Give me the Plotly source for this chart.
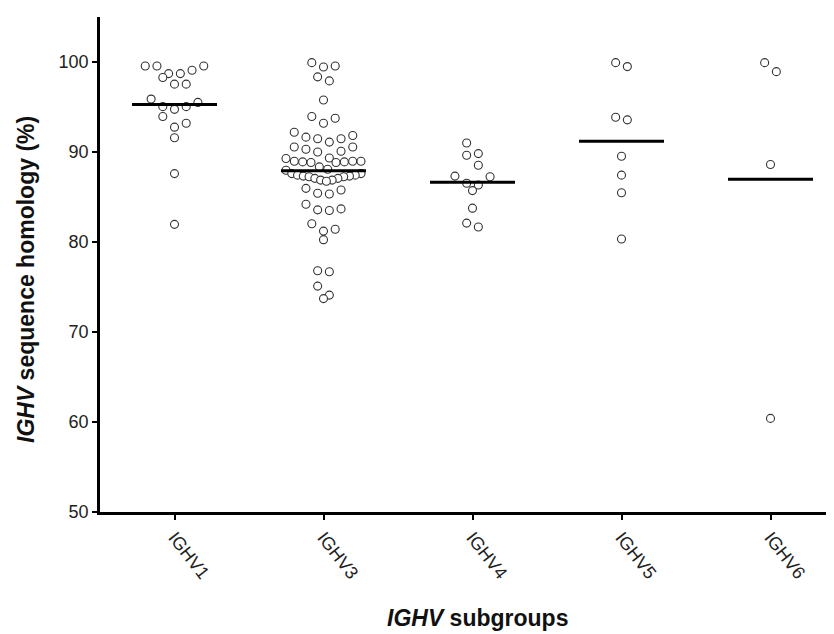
import plotly.graph_objects as go

# ---------------- data ----------------
categories = ["IGHV1", "IGHV3", "IGHV4", "IGHV5", "IGHV6"]

ighv1 = [99.56, 99.56, 99.56, 99.08, 98.71, 98.71, 98.27, 97.54, 97.54,
         95.88, 95.51, 95.04, 95.04, 94.74, 93.94, 93.20, 92.76, 91.59,
         87.60, 81.96]

ighv3 = [99.93, 99.56, 99.45, 98.35, 97.90, 95.78, 93.94, 93.75, 93.20,
         92.20, 91.84, 91.65, 91.48, 91.48, 91.10,
         90.55, 90.55, 90.30, 90.08, 90.00, 89.34,
         89.27, 88.98, 88.98, 88.98, 88.90, 88.90, 88.83, 88.83, 88.35, 88.09,
         87.98,
         87.60, 87.60, 87.43, 87.43, 87.32, 87.32, 87.25, 87.25, 87.07, 87.07,
         86.88, 86.88, 86.75,
         85.96, 85.78, 85.41, 85.34,
         84.20, 83.68, 83.57, 83.50,
         82.03, 81.41, 81.21, 80.26,
         76.80, 76.70, 75.10, 74.10, 73.71]

ighv4 = [91.00, 89.82, 89.64, 88.53, 87.32, 87.25, 86.52, 86.33, 85.71,
         83.76, 82.10, 81.66]

ighv5 = [99.93, 99.49, 93.86, 93.57, 89.53, 87.43, 85.48, 80.33]

ighv6 = [99.93, 98.93, 88.61, 60.40]

series = [ighv1, ighv3, ighv4, ighv5, ighv6]
y_ticks = [50, 60, 70, 80, 90, 100]

# ---------------- layout geometry ----------------
PAGE_OFF = 8                     # default body margin of the html page
W, H = 834 - PAGE_OFF, 634 - PAGE_OFF
ML, MR, MT, MB = 100 - PAGE_OFF, 0, 17 - PAGE_OFF, 122
plot_w = W - ML - MR
plot_h = H - MT - MB
cat_px = 149.0
x_range = [-0.5, -0.5 + plot_w / cat_px]
y_range = [50, 105]
px_per_x = plot_w / (x_range[1] - x_range[0])
px_per_y = plot_h / (y_range[1] - y_range[0])


def swarm_offsets(vals, row_h=1.25, gap=11.7, max_span=75.0):
    """Prism-like scatter: group values into rows, spread each row centred."""
    order = sorted(range(len(vals)), key=lambda i: -vals[i])
    rows, cur, top = [], [], None
    for i in order:
        if top is None or top - vals[i] > row_h + 1e-9:
            if cur:
                rows.append(cur)
            cur, top = [i], vals[i]
        else:
            cur.append(i)
    if cur:
        rows.append(cur)
    offs = [0.0] * len(vals)
    for row in rows:
        n = len(row)
        sp = gap if n < 2 else min(gap, max_span / (n - 1))
        slots = [(k - (n - 1) / 2) * sp for k in range(n)]
        slots.sort(key=lambda s: (abs(s), -s))
        members = sorted(row, key=lambda i: vals[i])
        for s, i in zip(slots, members):
            offs[i] = s / px_per_x
    return offs


def page_to_paper(px, py):
    fx, fy = px - PAGE_OFF, py - PAGE_OFF
    return (fx - ML) / plot_w, 1 - (fy - MT) / plot_h


fig = go.Figure()

for ci, vals in enumerate(series):
    offs = swarm_offsets(vals)
    fig.add_trace(go.Scatter(
        x=[ci + o for o in offs], y=vals, mode="markers",
        marker=dict(symbol="circle", size=8, color="white",
                    line=dict(color="#333333", width=1.1)),
        showlegend=False, hoverinfo="y"))

half = 42.5 / px_per_x
for ci, vals in enumerate(series):
    m = sum(vals) / len(vals)
    fig.add_trace(go.Scatter(
        x=[ci - half, ci + half], y=[m, m], mode="lines",
        line=dict(color="black", width=3), showlegend=False,
        hoverinfo="skip"))

font_family = "Liberation Sans, Arial, sans-serif"
ytx, yty = page_to_paper(26, 280)
xtx, xty = page_to_paper(477, 618)

fig.update_layout(
    width=W, height=H,
    margin=dict(l=ML, r=MR, t=MT, b=MB, autoexpand=False),
    paper_bgcolor="white", plot_bgcolor="white",
    font=dict(family=font_family, color="#222"),
    xaxis=dict(range=x_range, tickmode="array",
               tickvals=list(range(len(categories))), ticktext=categories,
               tickangle=52, ticks="outside", ticklen=5, tickwidth=2,
               tickcolor="black", showline=True, linecolor="black",
               linewidth=2.5, showgrid=False, zeroline=False,
               tickfont=dict(size=18, color="#222")),
    yaxis=dict(range=y_range, tickmode="array", tickvals=y_ticks,
               ticks="outside", ticklen=5, tickwidth=2, tickcolor="black",
               showline=True, linecolor="black", linewidth=2.5,
               showgrid=False, zeroline=False,
               tickfont=dict(size=18, color="#222")),
    annotations=[
        dict(text="<b><i>IGHV</i> sequence homology (%)</b>",
             xref="paper", yref="paper", x=ytx, y=yty,
             xanchor="center", yanchor="middle", textangle=-90,
             showarrow=False, font=dict(size=23, color="#111",
                                        family=font_family)),
        dict(text="<b><i>IGHV</i> subgroups</b>",
             xref="paper", yref="paper", x=xtx, y=xty,
             xanchor="center", yanchor="middle",
             showarrow=False, font=dict(size=23, color="#111",
                                        family=font_family)),
    ],
)

fig.write_html("out.html")
